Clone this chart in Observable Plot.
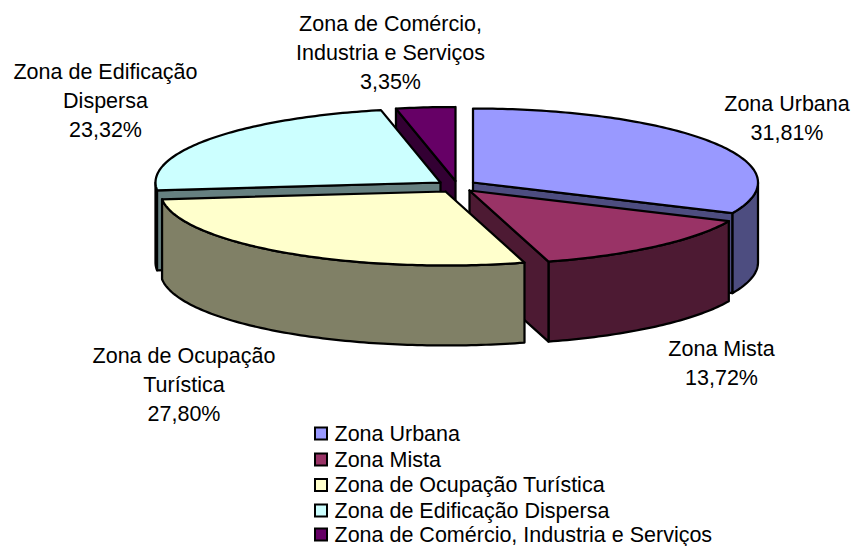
<!DOCTYPE html>
<html>
<head>
<meta charset="utf-8">
<script src="https://cdn.jsdelivr.net/npm/d3@7"></script>
<script src="https://cdn.jsdelivr.net/npm/@observablehq/plot@0.6"></script>
<style>html,body{margin:0;padding:0;background:#fff}svg{display:block}</style>
</head>
<body>
<div id="chart"></div>
<script>
// Data
const categories = ["Zona Urbana","Zona Mista","Zona de Ocupação Turística","Zona de Edificação Dispersa","Zona de Comércio, Industria e Serviços"];
const shares = [31.81,13.72,27.80,23.32,3.35];
const pieLabels = ["Zona Urbana","Zona Mista","Zona de Ocupação\nTurística","Zona de Edificação\nDispersa","Zona de Comércio,\nIndustria e Serviços"];
const topColors = ["#9999FF","#993366","#FFFFCC","#CCFFFF","#660066"];
const sideColors = ["#4D4D80","#4D1A33","#808066","#668080","#330033"];

// Layout of the 3-D exploded pie
const W = 851, H = 546, A = 285, B = 74, DEPTH = 80;
const apexX = [472.5,469,445,440,455];
const apexY = [182,190,191,182,180.5];
const labelX = [786.5,721,183.5,105,390];
const labelY = [116,360.5,382.5,98,50.5];
const paintOrder = [4,0,3,1,2];

const total = d3.sum(shares);
const cumulative = d3.cumsum(shares);
const angle = p => (p / total) * 360;
const ex = (i,t) => apexX[i] + A * Math.sin(t*Math.PI/180);
const ey = (i,t) => apexY[i] - B * Math.cos(t*Math.PI/180);

const polys = [];
let pid = 0;
function addPoly(pts, fill){
  const id = pid++;
  [...pts, pts[0]].forEach(([x,y]) => polys.push({id,x,y,fill}));
}
function arc(i,t0,t1){
  const n = Math.max(2, Math.ceil(Math.abs(t1-t0)));
  return d3.range(n+1).map(k => { const t = t0+(t1-t0)*k/n; return [ex(i,t), ey(i,t)]; });
}
for (const i of paintOrder){
  const t1 = angle(cumulative[i]), t0 = t1 - angle(shares[i]);
  // outer wall (only the part that faces the viewer)
  const s0 = Math.max(t0,90), s1 = Math.min(t1,270);
  if (s1 > s0){
    const a = arc(i,s0,s1);
    addPoly([...a, ...a.slice().reverse().map(([x,y]) => [x,y+DEPTH])], sideColors[i]);
  }
  // cut faces
  const cut = t => {
    const p = [ex(i,t), ey(i,t)];
    addPoly([[apexX[i],apexY[i]], p, [p[0],p[1]+DEPTH], [apexX[i],apexY[i]+DEPTH]], sideColors[i]);
  };
  if (t0 > 180 && t0 < 360) cut(t0);
  if (t1 > 0 && t1 < 180) cut(t1);
  // top face
  addPoly([[apexX[i],apexY[i]], ...arc(i,t0,t1)], topColors[i]);
}

const fmt = v => v.toFixed(2).replace(".",",") + "%";
const labelRows = categories.map((c,i) => ({text: pieLabels[i] + "\n" + fmt(shares[i]), x: labelX[i], y: labelY[i]}));
const legendY = [433.5,459.5,485,510.5,534.5];
const legendRows = categories.map((c,i) => ({c, fill: topColors[i], y: legendY[i]}));

const chart = Plot.plot({
  width: W, height: H, margin: 0,
  x: {domain:[0,W], range:[0,W], axis:null},
  y: {domain:[0,H], range:[0,H], axis:null},
  color: {type:"identity"},
  style: {fontFamily:"'Liberation Sans', Arial, sans-serif", background:"#fff"},
  marks: [
    Plot.line(polys, {x:"x", y:"y", z:"id", fill:"fill", stroke:"#000", strokeWidth:2.25, strokeLinejoin:"round"}),
    Plot.text(labelRows, {x:"x", y:"y", text:"text", fontSize:21.5, lineHeight:1.35, fill:"#000"}),
    Plot.rect(legendRows, {x1:315, x2:327, y1:d=>d.y-6, y2:d=>d.y+6, fill:"fill", stroke:"#000", strokeWidth:2}),
    Plot.text(legendRows, {x:334, y:"y", text:"c", textAnchor:"start", fontSize:21.5, fill:"#000"})
  ]
});
document.getElementById("chart").appendChild(chart);
</script>
</body>
</html>
